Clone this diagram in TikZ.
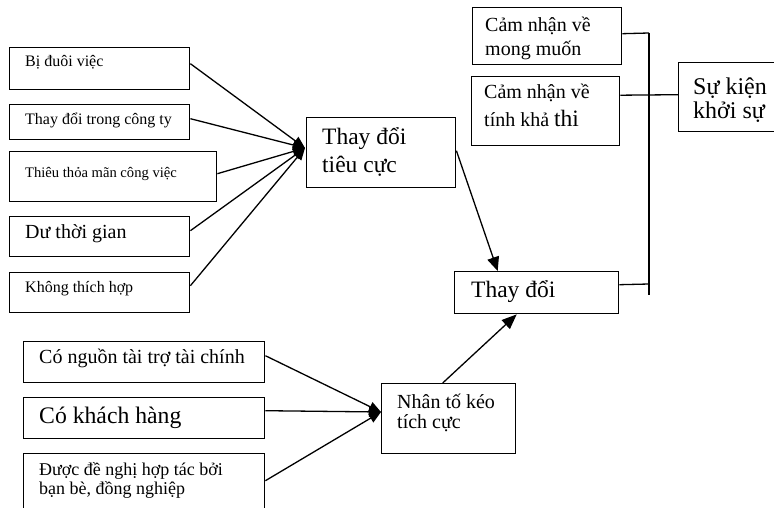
\documentclass[tikz,border=0pt]{standalone}
\usepackage{fontspec}
\setmainfont{Liberation Serif}
\usetikzlibrary{arrows.meta}
\tikzset{
  box/.style={draw, line width=1.4pt, inner sep=0pt, anchor=north west, rectangle},
  txt/.style={inner sep=0pt, anchor=base west},
  conn/.style={line width=1.3pt},
  arr/.style={line width=1.3pt, -{Triangle[length=12pt,width=10pt]}},
  fa/.style={font=\fontsize{16}{19}\selectfont},
  fb/.style={font=\fontsize{20}{23}\selectfont},
  fc/.style={font=\fontsize{23.5}{27}\selectfont},
  fd/.style={font=\fontsize{18}{21}\selectfont},
}
\begin{document}
\begin{tikzpicture}[x=1pt,y=-1pt]
\useasboundingbox (0,0) rectangle (774,508);
% left column boxes
\node[box, minimum width=180pt, minimum height=42pt] (b1) at (9,47) {};
\node[box, minimum width=180pt, minimum height=35pt] (b2) at (9,104) {};
\node[box, minimum width=207pt, minimum height=50pt] (b3) at (9,151) {};
\node[box, minimum width=180pt, minimum height=40pt] (b4) at (9,216) {};
\node[box, minimum width=180pt, minimum height=40pt] (b5) at (9,272) {};
\node[txt, fa] (t1) at (25,67) {Bị đuôi việc};
\node[txt, fa] (t2) at (25,125) {Thay đổi trong công ty};
\node[txt, font=\fontsize{14.6}{17}\selectfont] (t3) at (25,178) {Thiêu thỏa mãn công việc};
\node[txt, fb] (t4) at (25,238) {Dư thời gian};
\node[txt, fa] (t5) at (25,292) {Không thích hợp};
% negative change
\node[box, minimum width=149pt, minimum height=70pt] (tc) at (306,117) {};
\node[txt, fc] (tc1) at (322,145) {Thay đổi};
\node[txt, fc] (tc2) at (322,172) {tiêu cực};
% perceptions
\node[box, minimum width=149pt, minimum height=57pt] (m1) at (472,7) {};
\node[txt, fb] (m1a) at (485,32) {Cảm nhận về};
\node[txt, fb] (m1b) at (485,56) {mong muốn};
\node[box, minimum width=148pt, minimum height=69pt] (m2) at (471,76) {};
\node[txt, fb] (m2a) at (484,99) {Cảm nhận về};
\node[txt, fb] (m2b) at (484,127) {tính khả {\fontsize{23.5}{27}\selectfont thi}};
% start event
\node[box, minimum width=110pt, minimum height=69pt] (sk) at (678,62) {};
\node[txt, font=\fontsize{24}{28}\selectfont] (sk1) at (693,95) {Sự kiện};
\node[txt, font=\fontsize{24}{28}\selectfont] (sk2) at (693,119) {khởi sự};
% change
\node[box, minimum width=164pt, minimum height=42pt] (td) at (454,271) {};
\node[txt, fc] (td1) at (471,297) {Thay đổi};
% bottom left boxes
\node[box, minimum width=241pt, minimum height=41pt] (n1) at (23,341) {};
\node[box, minimum width=241pt, minimum height=41pt] (n2) at (23,397) {};
\node[box, minimum width=241pt, minimum height=67pt] (n3) at (23,453) {};
\node[txt, fb] (n1t) at (39,363) {Có nguồn tài trợ tài chính};
\node[txt, font=\fontsize{23.7}{27}\selectfont] (n2t) at (39,423) {Có khách hàng};
\node[txt, fd] (n3a) at (39,475) {Được đề nghị hợp tác bởi};
\node[txt, fd] (n3b) at (39,494) {bạn bè, đồng nghiệp};
% pull factor
\node[box, minimum width=134pt, minimum height=70pt] (nk) at (381,383) {};
\node[txt, fb] (nk1) at (397,408) {Nhân tố kéo};
\node[txt, fb] (nk2) at (397,428) {tích cực};
% coordinates
\coordinate (tcin) at (305,148);
\coordinate (nkin) at (381,412);
\coordinate (j1) at (649,33);
\coordinate (j3) at (649,284);
\coordinate (jb) at (649,295);
% connectors
\draw[arr] ([yshift=5pt]b1.east) -- (tcin);
\draw[arr] ([yshift=3.5pt]b2.east) -- (tcin);
\draw[arr] ([yshift=3pt]b3.east) -- (tcin);
\draw[arr] ([yshift=6pt]b4.east) -- (tcin);
\draw[arr] ([yshift=7pt]b5.east) -- (tcin);
\draw[arr] ([yshift=6.5pt]n1.east) -- (nkin);
\draw[arr] ([yshift=7.5pt]n2.east) -- (nkin);
\draw[arr] ([yshift=6.5pt]n3.east) -- (nkin);
\draw[arr, -{Triangle[length=14pt,width=12pt]}] ([yshift=2pt]tc.east) -- ([xshift=-39pt]td.north);
\draw[arr, -{Triangle[length=15pt,width=12pt]}] ([xshift=-6pt]nk.north) -- ([xshift=-20pt]td.south);
\draw[conn] (j1) -- (jb);
\draw[conn] ([yshift=2.5pt]m1.east) -- (j1);
\draw[conn] ([yshift=16pt]m2.east) -- ([yshift=2.5pt]sk.west);
\draw[conn] ([yshift=8pt]td.east) -- (j3);
\end{tikzpicture}
\end{document}
